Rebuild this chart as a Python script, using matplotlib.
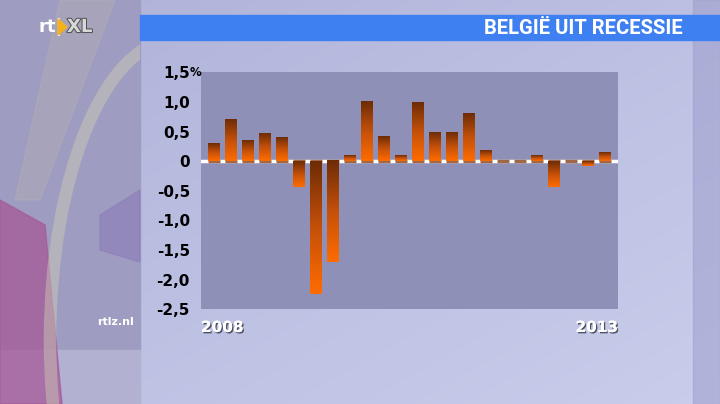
import numpy as np
import matplotlib.pyplot as plt
from matplotlib.colors import LinearSegmentedColormap
from matplotlib.patches import Rectangle, Polygon, Ellipse
import matplotlib.patheffects as pe

# quarterly growth of the Belgian economy, %, 2008 .. 2013
quarters = list(range(24))
growth = [0.3, 0.7, 0.35, 0.47, 0.4, -0.43, -2.24, -1.71, 0.1, 1.01, 0.42, 0.1,
          0.98, 0.48, 0.48, 0.8, 0.18, 0.0, 0.0, 0.1, -0.43, 0.0, -0.08, 0.15]
ytick_vals = [-2.5, -2.0, -1.5, -1.0, -0.5, 0, 0.5, 1.0, 1.5]
ytick_text = ['-2,5', '-2,0', '-1,5', '-1,0', '-0,5', '0', '0,5', '1,0', '1,5']
year_left, year_right = '2008', '2013'
title = 'BELGIË UIT RECESSIE'

W, H = 720, 404
fig = plt.figure(figsize=(7.2, 4.04), dpi=100)

# --- TV background ------------------------------------------------------
bg = fig.add_axes([0, 0, 1, 1])
bg.set_xlim(0, W)
bg.set_ylim(H, 0)
bg.axis('off')
yy, xx = np.mgrid[0:H, 0:W]
base = np.zeros((H, W, 3))
base[..., 0] = 174 + 14 * xx / W + 14 * yy / H
base[..., 1] = 178 + 14 * xx / W + 14 * yy / H
base[..., 2] = 216 + 10 * xx / W + 10 * yy / H
bg.imshow(np.clip(base, 0, 255).astype(np.uint8), extent=[0, W, H, 0], zorder=0)

# left strip with flag-like swirl
strip = Rectangle((0, 0), 140, 404, transform=bg.transData)
bg.add_patch(Rectangle((0, 0), 140, 350, color='#9e9cc0', zorder=1))
bg.add_patch(Rectangle((0, 350), 140, 54, color='#b2b1d2', zorder=1))
bg.add_patch(Polygon([[0, 200], [45, 225], [62, 404], [0, 404]], color='#a55a98', alpha=0.75, zorder=2))
bg.add_patch(Polygon([[100, 215], [140, 190], [140, 262], [100, 250]], color='#8d7cb8', alpha=0.6, zorder=2))
arc = Ellipse((175, 340), 250, 600, fill=False, ec='#cfcfb4', lw=9, alpha=0.45, zorder=2)
bg.add_patch(arc)
arc.set_clip_path(strip)
band = Polygon([[60, 0], [115, 0], [40, 200], [15, 200]], color='#c8c4a8', alpha=0.2, zorder=2)
bg.add_patch(band)
bg.add_patch(Rectangle((693, 0), 27, 404, color='#9c9ecb', alpha=0.55, zorder=1))

# title bar
bg.add_patch(Rectangle((140, 15), 580, 25, color='#3e7ff2', zorder=3))
bg.text(683, 28, title, color='white', fontsize=14.5, fontweight='bold',
        family='Roboto', ha='right', va='center', zorder=4)

# logo
bg.text(38, 27, 'rt|', color='white', fontsize=13, fontweight='bold', va='center', zorder=4)
bg.add_patch(Polygon([[58, 19], [67, 27], [58, 35]], color='#f2b21c', zorder=4))
bg.text(67, 27, 'XL', color='#d8d8d8', fontsize=13, fontweight='bold', va='center', zorder=4,
        path_effects=[pe.withStroke(linewidth=1.5, foreground='#555555')])
bg.text(97, 322, 'rtlz.nl', color='white', fontsize=8, fontweight='bold', va='center', zorder=4)

# --- chart ---------------------------------------------------------------
ax = fig.add_axes([201 / W, 1 - 309.3 / H, 417 / W, 237 / H])
ax.set_facecolor('#8e90b8')
for s in ax.spines.values():
    s.set_visible(False)

bars = ax.bar(quarters, growth, width=0.69, color='none', zorder=3)
ax.axhline(0, color='white', lw=2.5, zorder=2)
ax.hlines([0] * len(quarters), [q - 0.345 for q in quarters], [q + 0.345 for q in quarters],
          color='#a06848', lw=2.5, zorder=2.5)

cmap = LinearSegmentedColormap.from_list('bar', ['#6e2c06', '#c4500a', '#ff6c00'])
grad = np.linspace(0, 1, 128).reshape(-1, 1)
for b in bars:
    x0 = b.get_x()
    y0 = b.get_y()
    h = b.get_height()
    if h == 0:
        continue
    ax.imshow(grad, extent=[x0, x0 + b.get_width(), min(y0, y0 + h), max(y0, y0 + h)],
              cmap=cmap, aspect='auto', zorder=3, interpolation='bilinear')

ax.set_xlim(-0.78, 23.78)
ax.set_ylim(-2.5, 1.5)
ax.set_xticks([])
ax.set_yticks(ytick_vals)
ax.set_yticklabels(ytick_text)
ax.tick_params(axis='y', length=0, pad=8, labelsize=11, labelcolor='black')
for lbl in ax.get_yticklabels():
    lbl.set_fontweight('bold')
ax.text(-0.78, 1.5, '%', fontsize=8.5, fontweight='bold', ha='right', va='center',
        transform=ax.transData)

shadow = [pe.withSimplePatchShadow(offset=(1, -1), shadow_rgbFace='#333344', alpha=0.8), pe.Normal()]
ax.text(0, -0.045, year_left, transform=ax.transAxes, color='white', fontsize=11,
        fontweight='bold', ha='left', va='top', path_effects=shadow)
ax.text(1, -0.045, year_right, transform=ax.transAxes, color='white', fontsize=11,
        fontweight='bold', ha='right', va='top', path_effects=shadow)

fig.savefig('out.png', dpi=100)
